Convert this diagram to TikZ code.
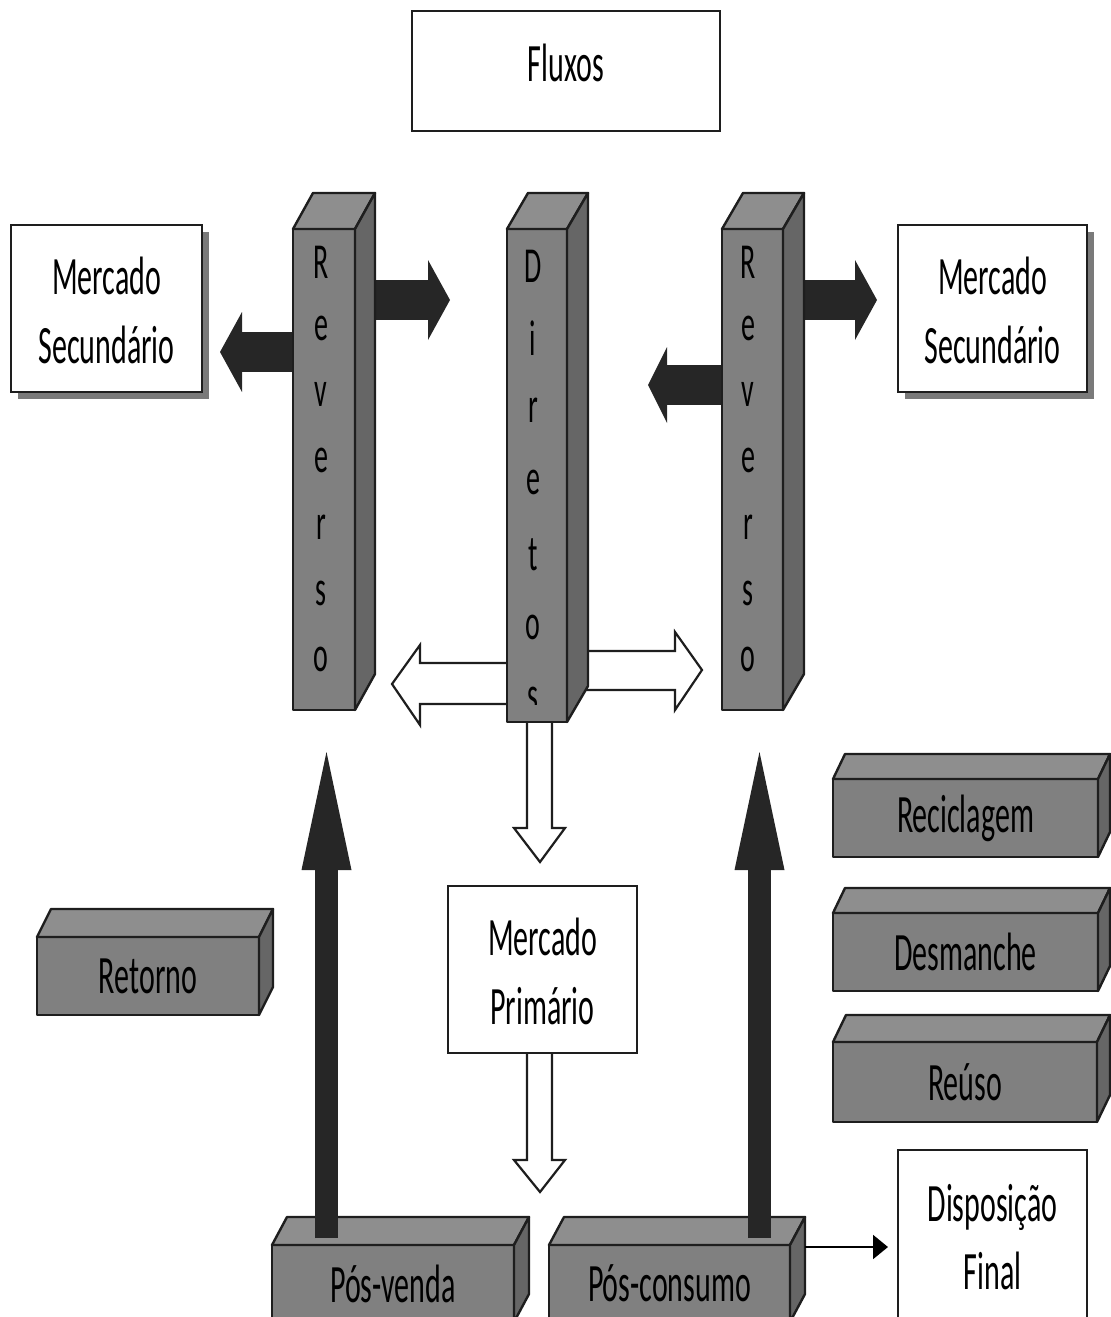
\documentclass[tikz,border=0pt]{standalone}
\usepackage{fontspec}
\setmainfont{Carlito}
\usetikzlibrary{arrows.meta,shadows,backgrounds,calc}
\definecolor{frontg}{HTML}{808080}
\definecolor{topg}{HTML}{8E8E8E}
\definecolor{sideg}{HTML}{666666}
\definecolor{blk}{HTML}{262626}
\definecolor{shadowg}{HTML}{7A7A7A}
\definecolor{edge}{HTML}{1E1E1E}
\newcommand{\vs}[1]{\scalebox{1}[1.8]{#1}}
\newcommand{\twoline}[2]{\raisebox{0pt}[\height][\dimexpr\depth-7pt\relax]{\vs{\begin{tabular}{@{}c@{}}#1\\#2\end{tabular}}}}
\newcommand{\cubefaces}[3]{%
  \draw[topface] (#1.north west) -- ++(#2,-#3) -- ([shift={(#2,-#3)}]#1.north east) -- (#1.north east) -- cycle;
  \draw[sideface] (#1.north east) -- ++(#2,-#3) -- ([shift={(#2,-#3)}]#1.south east) -- (#1.south east) -- cycle;}
\tikzset{
  box/.style={draw=edge, line width=1.2pt, fill=white, inner sep=0pt, outer sep=0pt,
    font=\fontsize{15pt}{19pt}\selectfont, align=center},
  shadowbox/.style={box, general shadow={fill=shadowg, shadow xshift=3.5pt, shadow yshift=-3.5pt}},
  block/.style={draw=edge, line width=1.2pt, fill=frontg, inner sep=0pt, outer sep=0pt,
    font=\fontsize{15pt}{19pt}\selectfont, line join=round},
  topface/.style={draw=edge, line width=1.2pt, fill=topg, line join=round},
  sideface/.style={draw=edge, line width=1.2pt, fill=sideg, line join=round},
  letter/.style={font=\fontsize{14pt}{17pt}\selectfont, inner sep=0pt},
  bigarrow/.style={draw=blk, line width=20pt, -{Triangle[length=11pt,width=40pt,line width=0pt]}},
  uparrow/.style={draw=blk, line width=11.5pt, -{Triangle[length=59pt,width=25pt,line width=0pt]}},
  hollow/.style={draw=edge, line width=1.1pt, fill=white, line join=miter},
  thinarrow/.style={draw=black, line width=1pt, -{Triangle[length=7.5pt,width=12pt]}}
}
\begin{document}
\begin{tikzpicture}[x=0.5pt,y=-0.5pt]
\useasboundingbox (0,0) rectangle (1111,1317);
\clip (0,0) rectangle (1111,1317);

% title
\node[box, minimum width=154pt, minimum height=60pt, text depth=8pt] (fluxos) at (566,71) {\vs{Fluxos}};

% secondary markets
\node[shadowbox, minimum width=95.5pt, minimum height=83.5pt] (msl) at (106.5,308.5) {\twoline{Mercado}{Secundário}};
\node[shadowbox, minimum width=94.5pt, minimum height=83.5pt] (msr) at (992.5,308.5) {\twoline{Mercado}{Secundário}};

% pillars
\node[block, minimum width=31pt, minimum height=240.5pt] (lrev) at (324,469.5) {};
\cubefaces{lrev}{20}{36}
\node[block, minimum width=30pt, minimum height=246.5pt] (dir) at (537,475.5) {};
\cubefaces{dir}{21}{36}
\node[block, minimum width=30.5pt, minimum height=240.5pt] (rrev) at (752.5,469.5) {};
\cubefaces{rrev}{21}{36}

\foreach \c [count=\i] in {R,e,v,e,r,s,o} {
  \node[letter] (lrevl\i) at (321,{262+66.3*(\i-1)}) {\vs{\c}};
  \node[letter] (rrevl\i) at (748,{262+66.3*(\i-1)}) {\vs{\c}};
}
\begin{scope}
  \clip (dir.north west) rectangle ([yshift=9pt]dir.south east);
  \foreach \c [count=\i] in {D,i,r,e,t,o,s} {
    \node[letter] (dirl\i) at (533,{266+72.3*(\i-1)}) {\vs{\c}};
  }
\end{scope}

% primary market
\node[box, minimum width=94.5pt, minimum height=83.5pt] (mp) at (542.5,969.5) {\twoline{Mercado}{Primário}};

% 3D blocks
\node[block, minimum width=111pt, minimum height=39pt] (ret) at (148,976) {\vs{Retorno}};
\cubefaces{ret}{14}{28}
\node[block, minimum width=132.5pt, minimum height=39pt] (rec) at (965.5,818) {\vs{Reciclagem}};
\cubefaces{rec}{12}{25}
\node[block, minimum width=132.5pt, minimum height=39pt] (des) at (965.5,952) {\vs{Desmanche}};
\cubefaces{des}{12}{25}
\node[block, minimum width=132pt, minimum height=40pt] (reu) at (965,1082) {\vs{Reúso}};
\cubefaces{reu}{13}{27}
\node[block, minimum width=121pt, minimum height=38.5pt] (pv) at (393,1283.5) {\vs{Pós-venda}};
\cubefaces{pv}{15}{28}
\node[block, minimum width=120.5pt, minimum height=38.5pt] (pc) at (669.5,1283.5) {\vs{Pós-consumo}};
\cubefaces{pc}{15}{28}

% final disposal
\node[box, minimum width=94.5pt, minimum height=85pt] (disp) at (992.5,1235) {\twoline{Disposição}{Final}};

% arrows behind the pillars
\begin{pgfonlayer}{background}
  \coordinate (t1) at (450,300);
  \coordinate (t2) at (220,352);
  \coordinate (t3) at (877,300);
  \coordinate (t4) at (648,385);
  \draw[bigarrow] (lrev.east |- t1) -- (t1);
  \draw[bigarrow] (lrev.west |- t2) -- (t2);
  \draw[bigarrow] (rrev.east |- t3) -- (t3);
  \draw[draw=blk, line width=20pt, -{Triangle[length=9.5pt,width=38pt,line width=0pt]}] (rrev.west |- t4) -- (t4);
  % hollow arrows
  \draw[hollow] (dir.west |- 0,663) -- (420,663) -- (420,645) -- (392,684) -- (420,725) -- (420,704) -- (dir.west |- 0,704);
  \draw[hollow] (dir.east |- 0,651) -- (675,651) -- (675,632) -- (702,670) -- (675,710) -- (675,690) -- (dir.east |- 0,690);
  \draw[hollow] (dir.south -| 527,0) -- (527,828) -- (514,828) -- (540,862) -- (565,828) -- (552,828) -- (dir.south -| 552,0);
  \draw[hollow] (mp.south -| 527,0) -- (527,1160) -- (514,1160) -- (540,1192) -- (565,1160) -- (552,1160) -- (mp.south -| 552,0);
\end{pgfonlayer}

% tall return arrows
\coordinate (u1) at (326.5,752);
\coordinate (u2) at (759.5,752);
\draw[uparrow] ([yshift=3.5pt]pv.north -| u1) -- (u1);
\draw[uparrow] ([yshift=3.5pt]pc.north -| u2) -- (u2);

% to final disposal
\draw[thinarrow] ([xshift=7.5pt]pc.east |- 0,1247) -- ([xshift=-5pt]disp.west |- 0,1247);
\end{tikzpicture}
\end{document}
